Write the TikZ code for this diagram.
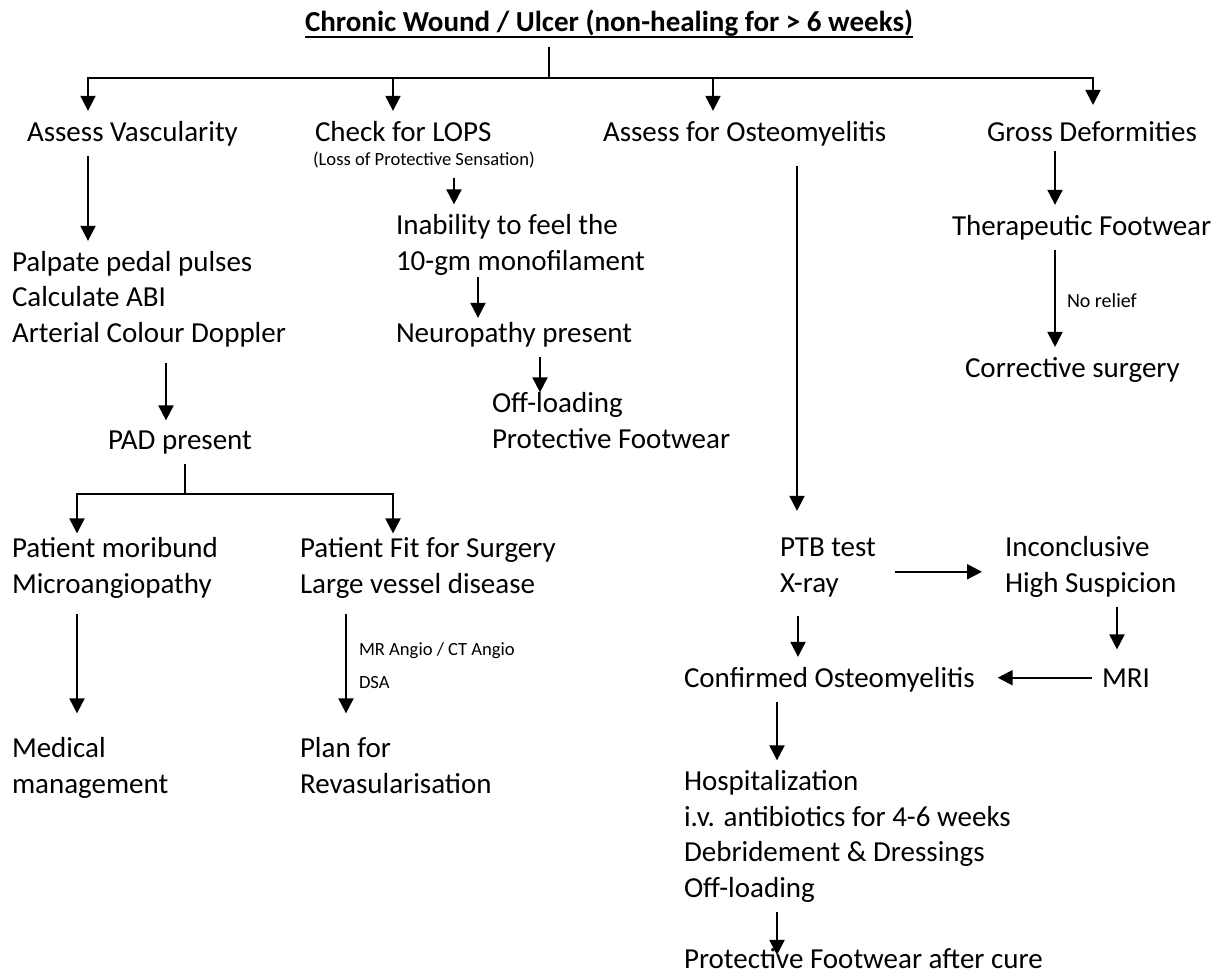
\documentclass[tikz,border=0pt]{standalone}
\usepackage{fontspec}
\setmainfont{Carlito}
\usetikzlibrary{arrows.meta}

\begin{document}
\begin{tikzpicture}[x=0.5pt,y=-0.5pt,
  every node/.style={inner sep=0pt,outer xsep=0pt,outer ysep=5pt},
  txt/.style={anchor=base west,align=left,font=\fontsize{14.5pt}{17.75pt}\selectfont},
  note/.style={anchor=base west,font=\fontsize{9.3pt}{11pt}\selectfont},
  lbl/.style={anchor=base west,align=left,font=\fontsize{9.3pt}{16.5pt}\selectfont},
  arr/.style={line width=1pt,-{Triangle[length=7.5pt,width=7.5pt]}},
  ln/.style={line width=1pt}]
\useasboundingbox (0,0) rectangle (1221,979);
\node[txt,outer ysep=0pt,font=\fontsize{14.5pt}{17pt}\selectfont\bfseries] (title) at (305,32) {Chronic Wound / Ulcer (non-healing for > 6 weeks)};
\draw[ln] ([yshift=-2.5pt]title.base west) -- ([yshift=-2.5pt]title.base east);
\node[txt] (vasc) at (27,141) {Assess Vascularity};
\node[txt] (lops) at (315,141) {Check for LOPS};
\node[note] (lopsnote) at (313,165) {(Loss of Protective Sensation)};
\node[txt] (osteo) at (603,141) {Assess for Osteomyelitis};
\node[txt] (gross) at (987,141) {Gross Deformities};
\node[txt] (pulses) at (12,342) {Palpate pedal pulses\\Calculate ABI\\Arterial Colour Doppler};
\node[txt] (pad) at (108,449) {PAD present};
\node[txt] (moribund) at (12,593) {Patient moribund\\Microangiopathy};
\node[txt] (fit) at (300,593) {Patient Fit for Surgery\\Large vessel disease};
\node[txt] (medical) at (12,793) {Medical\\management};
\node[txt] (plan) at (300,793) {Plan for\\Revasularisation};
\node[lbl] (imaging) at (359,688) {MR Angio / CT Angio\\DSA};
\node[txt] (inab) at (396,270) {Inability to feel the\\10-gm monofilament};
\node[txt] (neuro) at (396,342) {Neuropathy present};
\node[txt] (offload) at (492,448) {Off-loading\\Protective Footwear};
\node[txt] (ptb) at (780,592) {PTB test\\X-ray};
\node[txt] (incon) at (1005,592) {Inconclusive\\High Suspicion};
\node[txt] (mri) at (1102,687) {MRI};
\node[txt] (conf) at (684,687) {Confirmed Osteomyelitis};
\node[txt] (hosp) at (684,897) {Hospitalization\\i.v. antibiotics for 4-6 weeks\\Debridement \& Dressings\\Off-loading};
\node[txt] (prot) at (684,968) {Protective Footwear after cure};
\node[txt] (thera) at (952,235) {Therapeutic Footwear};
\node[txt] (corr) at (965,377) {Corrective surgery};
\node[lbl,font=\fontsize{10pt}{12pt}\selectfont] (relief) at (1067,307) {No relief};
\coordinate (bus) at (549,78);
\draw[ln,shorten <=5pt] (title.south -| bus) -- (bus);
\draw[arr] (bus) -| (vasc.north -| 88,0);
\draw[arr] (bus) -| (lops.north -| 393,0);
\draw[arr] (bus) -| (osteo.north -| 713,0);
\draw[arr,shorten >=3pt] (bus) -| (gross.north -| 1093,0);
\draw[arr] (vasc.south -| 88,0) -- (pulses.north -| 88,0);
\draw[arr,shorten <=3pt] (pulses.south -| 166,0) -- (pad.north -| 166,0);
\coordinate (padbus) at (185,494);
\draw[ln] (pad.south -| padbus) -- (padbus);
\draw[arr,shorten >=-3pt] (padbus) -| (moribund.north -| 77,0);
\draw[arr,shorten >=-3pt] (padbus) -| (fit.north -| 393,0);
\draw[arr,shorten <=3pt,shorten >=7pt] (moribund.south -| 77,0) -- (medical.north -| 77,0);
\draw[arr,shorten <=3pt,shorten >=7pt] (fit.south -| 346,0) -- (plan.north -| 346,0);
\draw[arr] (lopsnote.south -| 454,0) -- (inab.north -| 454,0);
\draw[arr,shorten <=-4pt,shorten >=-3pt] (inab.south -| 478,0) -- (neuro.north -| 478,0);
\draw[arr,shorten >=-5pt] (neuro.south -| 540,0) -- (offload.north -| 540,0);
\draw[arr,shorten <=5pt,shorten >=8.5pt] (osteo.south -| 797,0) -- (ptb.north -| 797,0);
\draw[arr,shorten <=9.5pt,shorten >=11.5pt] ([yshift=-2.25pt]ptb.east) -- ([yshift=-2.25pt]ptb.east -| incon.west);
\draw[arr,shorten <=4.5pt] (ptb.south -| 798,0) -- (conf.north -| 798,0);
\draw[arr,shorten >=4.5pt] (incon.south -| 1117,0) -- (mri.north -| 1117,0);
\draw[arr,shorten <=5pt,shorten >=11.5pt] (mri.west) -- (mri.west -| conf.east);
\draw[arr] (conf.south -| 777,0) -- (hosp.north -| 777,0);
\draw[arr,shorten >=-8.5pt] (hosp.south -| 777,0) -- (prot.north -| 777,0);
\draw[arr] (gross.south -| 1055,0) -- (thera.north -| 1055,0);
\draw[arr] (thera.south -| 1055,0) -- (corr.north -| 1055,0);
\end{tikzpicture}
\end{document}
